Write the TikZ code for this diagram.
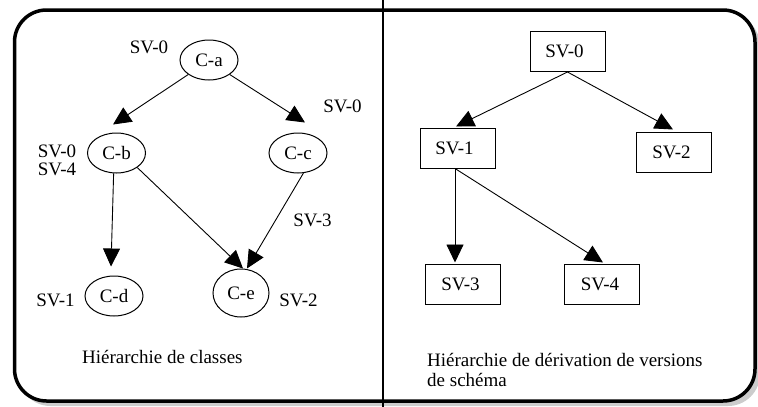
\documentclass[tikz,border=0pt]{standalone}
\usepackage{fontspec}
\setmainfont{Liberation Serif}
\usetikzlibrary{arrows.meta,shapes.geometric}
\begin{document}
\begin{tikzpicture}[x=1pt,y=-1pt,
  every node/.style={font=\fontsize{19}{20}\selectfont, inner sep=0pt},
  cls/.style={ellipse, draw, line width=1pt, minimum width=58pt, minimum height=40pt},
  ver/.style={rectangle, draw, line width=1pt, minimum width=75pt, minimum height=40pt},
  arr/.style={line width=0.9pt, -{Triangle[length=18pt,width=17pt]}},
  lbl/.style={anchor=base},
  captext/.style={anchor=base west},
]
\useasboundingbox (0,0) rectangle (758,407);
\fill[white] (0,0) rectangle (758,407);

% framed panel with its drop shadow, split in two halves
\fill[gray!40, rounded corners=32pt] (18.5,14) rectangle (760,406);
\draw[line width=3.5pt, fill=white, rounded corners=32pt] (14.5,10) rectangle (755,401);
\draw[line width=1.2pt] (383,0) -- (383,407);

% class hierarchy
\node[cls] (ca) at (209,60) {C-a};
\node[cls] (cb) at (116.5,153) {C-b};
\node[cls] (cc) at (298,153) {C-c};
\node[cls] (cd) at (114,296) {C-d};
\node[cls, minimum width=56pt, minimum height=48pt] (ce) at (241,293) {C-e};

\draw[arr] (ca.215) -- ([shift={(-3.5,-8)}]cb.north);
\draw[arr] (ca.325) -- ([shift={(7,-10)}]cc.north);
\draw[arr] (cb.262) -- ([shift={(-3,-9)}]cd.north);
\draw[arr] (cb.325) -- ([shift={(2,0)}]ce.north);
\draw[arr] (cc.285) -- ([shift={(6,0)}]ce.north);

\node[lbl] (la) at (149,53) {SV-0};
\node[lbl] (lc) at (342.5,112) {SV-0};
\node[align=center, font=\fontsize{19}{18}\selectfont] (lb) at (57,160) {SV-0\\SV-4};
\node[lbl] (le1) at (312.5,226) {SV-3};
\node[lbl] (ld) at (55.5,306) {SV-1};
\node[lbl] (le2) at (298.5,306) {SV-2};
\node[captext] (capl) at (82,363) {Hiérarchie de classes};

% schema version derivation hierarchy
\node[ver] (s0) at (567.5,51.5) {\hspace*{-6pt}SV-0};
\node[ver] (s1) at (457.5,148) {\hspace*{-6pt}SV-1};
\node[ver] (s2) at (674,152) {\hspace*{-5pt}SV-2};
\node[ver] (s3) at (463,284) {\hspace*{-5pt}SV-3};
\node[ver] (s4) at (602,284) {\hspace*{-4pt}SV-4};

\draw[arr] (s0.south) -- ([shift={(-1.5,-1)}]s1.north);
\draw[arr] (s0.south) -- ([shift={(-1,-2)}]s2.north);
\draw[arr] ([xshift=-2.5pt]s1.south) -- ([shift={(-8,-1)}]s3.north);
\draw[arr] ([xshift=-2.5pt]s1.south) -- ([shift={(1,-1)}]s4.north);

\node[captext] (capr1) at (427,366) {Hiérarchie de dérivation de versions};
\node[captext] (capr2) at (427,386) {de schéma};
\end{tikzpicture}
\end{document}
